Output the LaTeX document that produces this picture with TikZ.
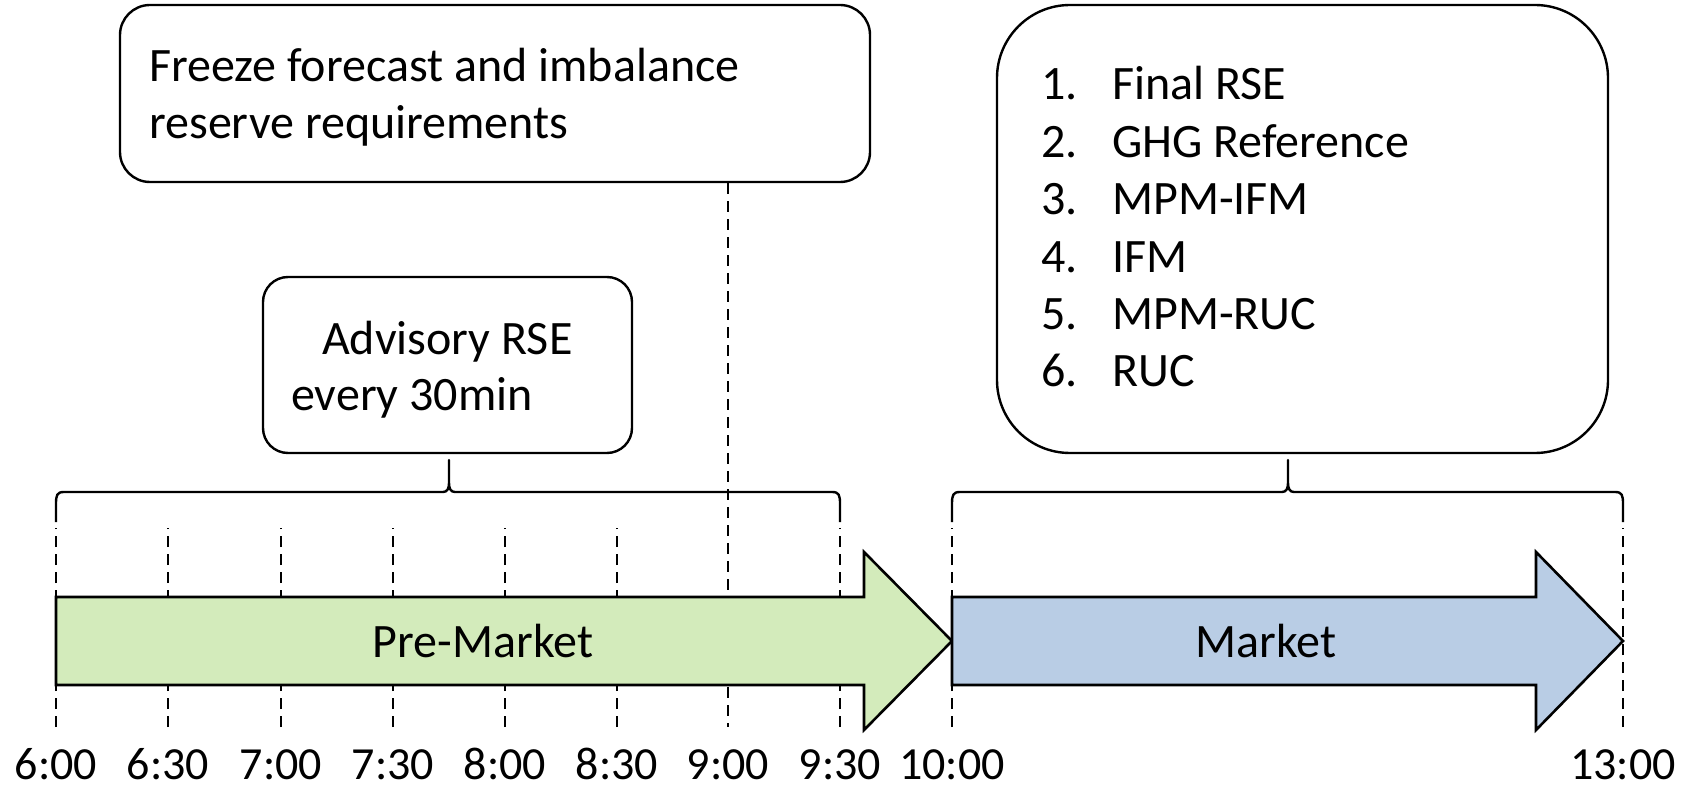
\documentclass[tikz,border=0pt]{standalone}
\usepackage{fontspec}
\setmainfont{Carlito}
\definecolor{preGreen}{HTML}{D3EBBB}
\definecolor{mktBlue}{HTML}{B9CDE5}
\begin{document}
\begin{tikzpicture}[x=1pt,y=-1pt,
  every node/.style={font=\fontsize{48}{58}\selectfont},
  txt/.style={inner sep=0pt, anchor=base west},
  barlbl/.style={inner sep=0pt, anchor=base},
  timelbl/.style={inner sep=0pt, anchor=base, text depth=0pt, font=\fontsize{46}{56}\selectfont},
  roundbox/.style={draw, line width=2.4pt, fill=white, inner sep=0pt},
  tickline/.style={draw, line width=2.2pt, dash pattern=on 11pt off 7pt},
  bracepath/.style={draw, line width=2.4pt, line join=round},
  barshape/.style={draw, line width=2.6pt, line join=miter}
]
\useasboundingbox (0,0) rectangle (1701,791);

% time ticks (bottom ends)
\foreach \nm/\xx in {t600/56, t630/168, t700/281, t730/393, t800/505, t830/617, t900/728, t930/840, t1000/952, t1300/1623}
  \coordinate (\nm) at (\xx,727);

% dashed time lines, drawn beneath the bars
\foreach \nm in {t600, t630, t700, t730, t800, t830, t930, t1000, t1300}
  \draw[tickline] (\nm) -- (\nm |- 0,528);

% boxes
\node[roundbox, rounded corners=30pt, minimum width=750pt, minimum height=177pt] (freeze) at (495,93.5) {};
\node[roundbox, rounded corners=25pt, minimum width=369pt, minimum height=176pt] (advisory) at (447.5,365) {};
\node[roundbox, rounded corners=73pt, minimum width=611pt, minimum height=448pt] (market) at (1302.5,229) {};

% freeze line down to 9:00
\draw[tickline] (freeze.south -| t900) -- (t900);

% box texts
\node[txt] (fz1) at (149,82) {Freeze forecast and imbalance};
\node[txt] (fz2) at (149,139) {reserve requirements};

\node[txt] (adv1) at (322,355) {Advisory RSE};
\node[txt] (adv2) at (291,411) {every 30min};

\foreach \i/\lbl/\yy in {1/Final RSE/100, 2/GHG Reference/158, 3/MPM-IFM/215, 4/IFM/273, 5/MPM-RUC/330, 6/RUC/387}{
  \node[txt] (num\i) at (1041,\yy) {\i.};
  \node[txt] (item\i) at (1112,\yy) {\lbl};
}

% braces
\draw[bracepath] (56,522) -- (56,504) .. controls (56,495) and (57,492) .. (64,492)
  -- (443,492) .. controls (447,492) and (449,489) .. (449,483) -- (449,460)
  -- (449,483) .. controls (449,489) and (451,492) .. (455,492)
  -- (832,492) .. controls (839,492) and (840,495) .. (840,504) -- (840,522);
\draw[bracepath] (952,522) -- (952,504) .. controls (952,495) and (953,492) .. (960,492)
  -- (1282,492) .. controls (1286,492) and (1288,489) .. (1288,483) -- (1288,460)
  -- (1288,483) .. controls (1288,489) and (1290,492) .. (1294,492)
  -- (1615,492) .. controls (1622,492) and (1623,495) .. (1623,504) -- (1623,522);

% phase arrows
\path[barshape, fill=preGreen] (56,597) -- (864,597) -- (864,552) -- (952,641)
  -- (864,730) -- (864,685) -- (56,685) -- cycle;
\path[barshape, fill=mktBlue] (952,597) -- (1536,597) -- (1536,552) -- (1623,641)
  -- (1536,730) -- (1536,685) -- (952,685) -- cycle;

\node[barlbl] (pre) at (483,657) {Pre-Market};
\node[barlbl] (mkt) at (1266,657) {Market};

% time labels
\foreach \nm/\lbl in {t600/6:00, t630/6:30, t700/7:00, t730/7:30, t800/8:00, t830/8:30, t900/9:00, t930/9:30, t1000/10:00, t1300/13:00}
  \node[timelbl] (l\nm) at ([yshift=-52pt]\nm) {\lbl};
\end{tikzpicture}
\end{document}
